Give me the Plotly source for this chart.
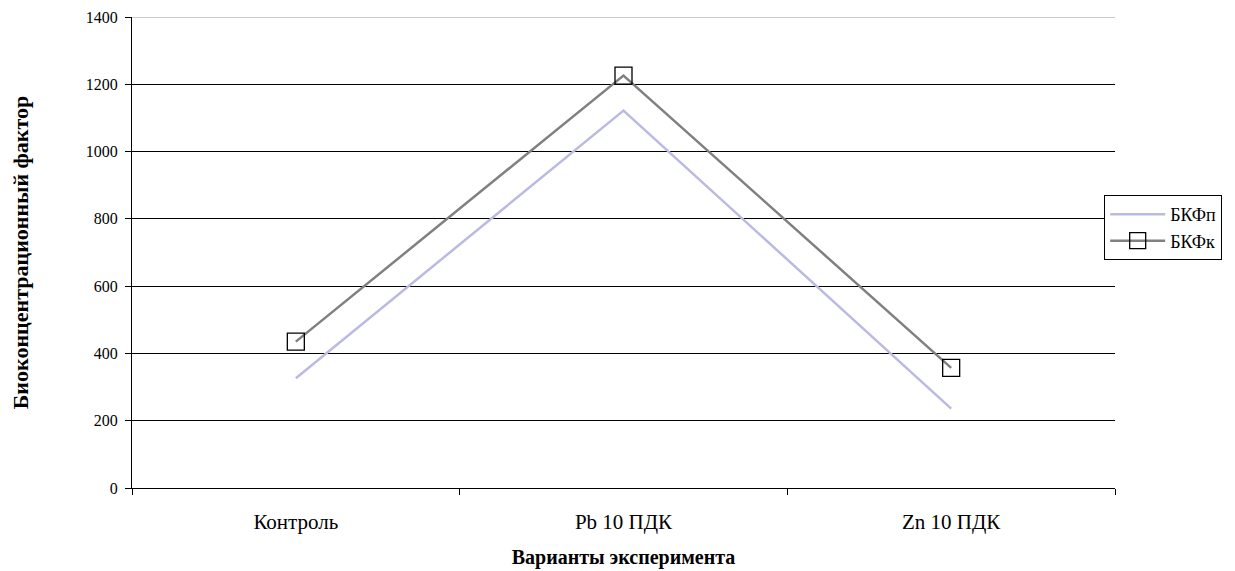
import plotly.graph_objects as go

categories = ["Контроль", "Pb 10 ПДК", "Zn 10 ПДК"]
bkf_p = [326, 1122, 236]
bkf_k = [435, 1226, 357]
y_ticks = [0, 200, 400, 600, 800, 1000, 1200, 1400]

FONT = "Liberation Serif, Times New Roman, serif"

fig = go.Figure()
fig.add_trace(go.Scatter(
    x=categories, y=bkf_p, name="БКФп", mode="lines",
    line=dict(color="#babae2", width=2.5),
))
fig.add_trace(go.Scatter(
    x=categories, y=bkf_k, name="БКФк", mode="lines+markers",
    line=dict(color="#808080", width=2.5),
    marker=dict(symbol="square-open", size=17, color="black", line=dict(width=1.3, color="black")),
))

fig.add_shape(type="line", xref="paper", yref="y", x0=0, x1=1, y0=1400, y1=1400,
              line=dict(color="#b8b8b8", width=1.5), layer="below")

fig.update_layout(
    width=1235, height=571,
    margin=dict(l=124, r=128, t=9, b=91, autoexpand=False),
    plot_bgcolor="white", paper_bgcolor="white",
    font=dict(family=FONT, size=15, color="black"),
    showlegend=True,
    legend=dict(
        x=0.989, y=0.622, xanchor="left", yanchor="top",
        bordercolor="black", borderwidth=1, bgcolor="white",
        font=dict(family=FONT, size=18),
        itemwidth=55, tracegroupgap=0,
    ),
    xaxis=dict(
        type="category", showgrid=False, showline=True, linecolor="black", linewidth=1.3,
        ticks="outside", tickson="boundaries", ticklen=6, tickcolor="black", automargin=False,
        tickfont=dict(family=FONT, size=21), range=[-0.5, 2.5], ticklabelstandoff=15,
        title=dict(text="<b>Варианты эксперимента</b>", font=dict(family=FONT, size=20), standoff=16),
    ),
    yaxis=dict(
        range=[0, 1400], tickvals=y_ticks, showgrid=True, gridcolor="black", gridwidth=1.2,
        showline=True, linecolor="black", linewidth=1.3, zeroline=False, automargin=False,
        ticks="outside", ticklen=6, tickcolor="black", ticklabelstandoff=4,
        tickfont=dict(family=FONT, size=16),
        title=dict(text="<b>Биоконцентрационный фактор</b>", font=dict(family=FONT, size=22), standoff=60),
    ),
)

fig.write_html("out.html")
